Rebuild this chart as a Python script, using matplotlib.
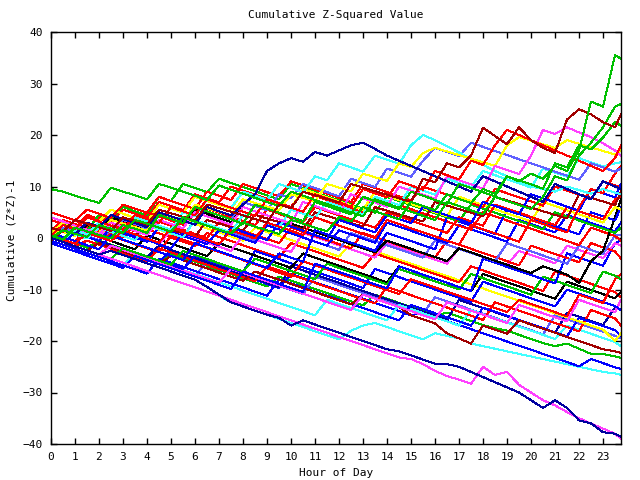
import matplotlib
matplotlib.use("Agg")
import matplotlib.pyplot as plt
import numpy as np

# half-hour samples plus the last reading at 23:45
hours = np.append(np.arange(0, 24, 0.5), 23.75)

# colours (gnuplot-ish)
R, G, B, M, C = '#ff0000', '#00c000', '#0000ff', '#ff40ff', '#40ffff'
DR, Y, K, DB, SB = '#a00000', '#ffff00', '#000000', '#0000a0', '#6060ff'

# cumulative (z*z)-1 per series
g_top = [0, 1.5, 0.8, 0.2, 2.5, 1.8, 1.0, 3.5, 2.8, 2.0, 1.2, 4.0, 3.2, 2.4, 1.6, 0.9,
         3.0, 2.2, 1.5, 0.8, 3.5, 2.8, 2.0, 1.3, 4.0, 3.2, 6.0, 5.2, 4.4, 3.6, 7.0, 6.2,
         5.4, 8.5, 7.6, 6.8, 9.5, 8.6, 12.0, 11.0, 12.5, 11.5, 14.0, 13.0, 17.0, 26.5, 25.5, 35.5, 34.8]
g_hi2 = [9.5, 9.0, 8.2, 7.5, 6.8, 9.8, 9.0, 8.3, 7.5, 10.5, 9.8, 9.0, 8.2, 7.4, 10.2, 9.4,
         8.6, 7.8, 7.0, 6.2, 9.0, 8.2, 7.4, 6.6, 5.8, 5.0, 4.2, 7.5, 6.7, 5.9, 5.1, 4.3,
         3.5, 7.0, 6.2, 5.4, 4.6, 8.0, 7.2, 6.4, 5.6, 8.0, 12.0, 11.2, 16.0, 18.5, 21.5, 25.5, 26.0]
g_hi3 = [0.5, -0.3, 2.0, 1.3, 0.6, -0.1, 2.5, 1.8, 1.0, 4.5, 3.7, 2.9, 6.0, 5.2, 4.4, 3.6,
         2.8, 6.5, 5.7, 4.9, 4.1, 3.3, 7.0, 6.2, 5.4, 4.6, 8.0, 7.2, 6.4, 5.6, 9.0, 8.2,
         7.4, 6.6, 10.5, 9.7, 8.9, 8.1, 12.0, 11.2, 10.4, 9.6, 14.5, 13.7, 18.0, 17.2, 19.5, 22.5, 21.8]
dr_hi = [2.0, 1.3, 3.5, 2.8, 2.1, 1.4, 4.0, 3.3, 2.6, 5.5, 4.8, 4.1, 3.4, 6.5, 5.8, 5.1,
         4.4, 3.7, 3.0, 6.5, 5.8, 9.0, 8.3, 7.6, 6.9, 10.5, 9.8, 9.1, 8.4, 7.7, 7.0, 11.5,
         10.8, 14.5, 13.7, 16.0, 21.4, 19.8, 18.2, 21.5, 19.0, 17.5, 16.5, 23.0, 25.0, 24.0, 22.5, 21.5, 24.0]
dr_mid = [-0.5, 1.5, 0.8, 0.1, 2.5, 1.8, 1.1, 0.4, 3.0, 2.3, 1.6, 0.9, 0.2, 3.5, 2.8, 2.1,
          1.4, 4.5, 3.8, 3.1, 2.4, 1.7, 5.0, 4.3, 3.6, 2.9, 2.2, 6.0, 5.3, 4.6, 3.9, 3.2,
          7.0, 6.3, 5.6, 4.9, 4.2, 8.0, 7.3, 6.6, 5.9, 5.2, 4.5, 3.8, 8.5, 7.8, 7.1, 6.4, 9.0]
dr_low = [0, -0.8, -1.6, -2.4, -1.0, -1.8, -2.6, -3.4, -4.2, -5.0, -3.5, -4.3, -5.1, -5.9, -6.7, -7.5,
          -8.3, -6.5, -7.3, -8.1, -8.9, -9.7, -10.5, -11.3, -12.1, -12.9, -11.0, -11.8, -12.6, -13.4, -15.0, -15.8,
          -16.6, -18.5, -19.5, -20.5, -17.0, -17.8, -18.6, -16.0, -16.8, -17.6, -18.4, -19.2, -20.0, -20.8, -21.6, -22.0, -22.3]
db_bot = [0, -0.8, -1.6, -2.4, -3.2, -2.5, -3.3, -4.1, -4.9, -5.7, -6.5, -7.3, -8.1, -9.5, -11.0, -12.5,
          -13.3, -14.1, -14.9, -15.5, -17.0, -16.0, -16.8, -17.6, -18.4, -19.2, -20.0, -20.8, -21.6, -22.0, -22.8, -23.6,
          -24.4, -24.5, -25.0, -26.0, -27.0, -28.0, -29.0, -30.0, -31.5, -33.0, -31.5, -33.0, -35.4, -36.0, -37.7, -38.0, -38.6]
m_bot = [0, -0.8, -1.6, -2.4, -3.2, -4.0, -4.8, -5.6, -6.4, -7.2, -8.0, -8.8, -9.6, -10.4, -11.2, -12.0,
         -12.8, -13.6, -14.4, -15.2, -16.0, -16.8, -17.6, -18.4, -19.2, -20.0, -20.8, -21.6, -22.4, -23.2, -23.5, -24.5,
         -25.8, -26.8, -27.5, -28.3, -25.0, -26.6, -26.0, -28.5, -30.0, -31.5, -32.5, -33.8, -35.0, -36.0, -37.0, -38.0, -39.0]
c_bot = [0, -0.8, -1.6, -2.4, -3.2, -4.0, -4.8, -5.6, -6.4, -7.2, -8.0, -8.8, -9.6, -10.4, -11.2, -12.5,
         -13.3, -14.1, -14.9, -15.7, -16.5, -17.3, -18.1, -18.9, -19.7, -18.0, -17.0, -16.5, -17.3, -18.1, -18.9, -19.7,
         -18.5, -19.0, -19.5, -20.5, -21.0, -21.5, -22.0, -22.5, -23.0, -23.5, -24.0, -24.5, -25.0, -25.5, -26.0, -26.3, -26.6]
g_low = [0.5, -0.3, -1.1, -1.9, -0.5, -1.3, -2.1, -2.9, -3.7, -4.5, -3.0, -3.8, -4.6, -5.4, -6.2, -7.0,
         -7.8, -8.6, -9.4, -7.5, -8.3, -9.1, -9.9, -10.7, -11.5, -12.3, -13.1, -11.0, -11.8, -12.6, -13.4, -14.2,
         -15.0, -14.5, -15.3, -16.1, -16.9, -17.5, -18.0, -18.8, -19.6, -20.4, -21.0, -20.5, -21.5, -22.5, -22.5, -23.0, -23.3]
b_low = [0, -0.8, 1.0, 0.2, -0.6, -1.4, -2.2, -3.0, -3.8, -4.6, -2.5, -3.3, -4.1, -4.9, -5.7, -6.5,
         -7.3, -8.1, -8.9, -9.7, -7.0, -7.8, -8.6, -9.4, -10.2, -11.0, -11.8, -12.6, -13.4, -14.2, -15.0, -14.5,
         -15.3, -16.1, -16.9, -17.7, -18.5, -19.3, -20.1, -20.9, -21.7, -22.5, -23.3, -24.1, -24.9, -23.5, -24.3, -25.1, -25.4]
y_hi = [1.0, 3.0, 2.3, 1.6, 0.9, 3.5, 2.8, 2.1, 1.4, 4.5, 3.8, 3.1, 6.5, 5.8, 5.1, 4.4,
        7.5, 6.8, 6.1, 5.4, 8.5, 7.8, 7.1, 10.5, 9.8, 9.1, 12.5, 11.8, 11.1, 14.5, 13.8, 16.5,
        17.5, 16.8, 16.1, 15.4, 14.7, 14.0, 18.0, 19.6, 18.9, 18.2, 17.5, 19.0, 18.3, 17.6, 16.9, 16.2, 17.0]
c_hi = [0.5, -0.3, 1.5, 0.7, 3.0, 2.2, 1.4, 4.0, 3.2, 2.4, 1.6, 5.0, 4.2, 7.5, 6.7, 5.9,
        9.0, 8.2, 7.4, 10.5, 9.7, 8.9, 12.0, 11.2, 14.5, 13.7, 12.9, 16.0, 15.2, 14.4, 18.0, 20.0,
        19.0, 17.8, 16.6, 15.4, 14.2, 13.0, 12.0, 11.0, 10.0, 9.5, 9.0, 10.0, 9.3, 8.6, 9.5, 8.8, 8.5]
db_hi = [0, 1.5, 0.7, 3.0, 2.2, 4.5, 3.7, 2.9, 2.1, 5.0, 4.2, 3.4, 2.6, 6.0, 5.2, 4.4,
         6.5, 8.5, 13.0, 14.5, 15.5, 14.8, 16.7, 16.0, 17.0, 18.0, 18.5, 17.3, 16.0, 15.0, 14.0, 13.0,
         12.0, 11.0, 10.0, 9.0, 12.0, 11.0, 10.0, 9.0, 8.0, 7.0, 10.5, 9.5, 8.5, 7.5, 11.0, 10.0, 9.5]
r_1 = [0.5, 2.5, 1.7, 4.0, 3.2, 2.4, 1.6, 4.5, 3.7, 2.9, 6.0, 5.2, 4.4, 7.5, 6.7, 5.9,
       5.1, 4.3, 7.5, 6.7, 5.9, 5.1, 8.5, 7.7, 6.9, 6.1, 9.5, 8.7, 7.9, 11.0, 10.2, 9.4,
       13.0, 12.2, 11.4, 15.0, 14.2, 18.0, 21.0, 20.0, 19.0, 18.0, 17.0, 16.0, 15.0, 14.0, 13.0, 15.5, 18.0]
r_2 = [2.0, 1.2, 3.5, 2.7, 1.9, 1.1, 3.0, 2.2, 5.0, 4.2, 3.4, 2.6, 6.5, 5.7, 4.9, 4.1,
       3.3, 2.5, 5.5, 4.7, 3.9, 3.1, 6.0, 5.2, 4.4, 3.6, 2.8, 2.0, 5.0, 4.2, 3.4, 2.6,
       1.8, 1.0, 4.0, 3.2, 2.4, 6.5, 5.7, 4.9, 4.1, 3.3, 2.5, 6.0, 5.2, 4.4, 3.6, 7.5, 8.0]
r_3 = [3.5, 2.7, 1.9, 4.5, 3.7, 2.9, 2.1, 1.3, 4.0, 3.2, 2.4, 1.6, 0.8, 0.0, 3.0, 2.2,
       1.4, 0.6, -0.2, -1.0, 2.0, 1.2, 0.4, -0.4, -1.2, -2.0, 1.0, 0.2, -0.6, -1.4, -2.2, -3.0,
       -3.8, -0.5, -1.3, -2.1, -2.9, -3.7, -4.5, -5.3, -1.5, -2.3, -3.1, -3.9, -4.7, -1.0, -1.8, -2.6, -4.0]
r_4 = [5.0, 4.2, 3.4, 2.6, 1.8, 1.0, 0.2, 2.5, 1.7, 0.9, 0.1, -0.7, -1.5, 1.0, 0.2, -0.6,
       -1.4, -2.2, -3.0, -3.8, -1.0, -1.8, -2.6, -3.4, -4.2, -5.0, -5.8, -3.0, -3.8, -4.6, -5.4, -6.2,
       -7.0, -7.8, -8.6, -5.5, -6.3, -7.1, -7.9, -8.7, -9.5, -10.3, -6.5, -7.3, -8.1, -8.9, -9.7, -10.5, -11.5]
r_5 = [0, -0.8, -1.6, -0.5, -1.3, -2.1, -2.9, -3.7, -4.5, -2.0, -2.8, -3.6, -4.4, -5.2, -6.0, -6.8,
       -7.6, -8.4, -5.5, -6.3, -7.1, -7.9, -8.7, -9.5, -10.3, -11.1, -11.9, -12.7, -9.5, -10.3, -11.1, -11.9,
       -12.7, -13.5, -14.3, -15.1, -15.9, -12.5, -13.3, -14.1, -14.9, -15.7, -16.5, -17.3, -18.1, -14.0, -14.8, -15.6, -17.0]
r_6 = [1.0, 0.2, -0.6, 2.0, 1.2, 0.4, -0.4, -1.2, -2.0, -2.8, 0.5, -0.3, -1.1, -1.9, -2.7, -3.5,
       -4.3, -5.1, -5.9, -6.7, -7.5, -4.5, -5.3, -6.1, -6.9, -7.7, -8.5, -9.3, -10.1, -10.9, -8.0, -8.8,
       -9.6, -10.4, -11.2, -12.0, -12.8, -13.6, -14.4, -12.0, -12.8, -13.6, -14.4, -15.2, -11.0, -11.8, -12.6, -8.0, -7.0]
r_7 = [1.5, 3.5, 2.7, 1.9, 4.0, 3.2, 5.5, 4.7, 3.9, 7.0, 6.2, 5.4, 8.5, 7.7, 6.9, 10.0,
       9.2, 8.4, 7.6, 6.8, 6.0, 9.0, 8.2, 7.4, 6.6, 5.8, 5.0, 8.0, 7.2, 6.4, 5.6, 4.8,
       4.0, 3.2, 2.4, 1.6, 5.0, 4.2, 3.4, 2.6, 1.8, 1.0, 0.2, -0.6, -1.4, 2.0, 1.2, 0.4, -0.5]
r_8 = [0.5, -0.3, -1.1, 1.0, 0.2, -0.6, 1.5, 0.7, -0.1, -0.9, 2.0, 1.2, 0.4, -0.4, -1.2, 1.5,
       0.7, -0.1, 3.0, 2.2, 1.4, 0.6, 4.0, 3.2, 2.4, 1.6, 0.8, 0.0, 3.5, 2.7, 1.9, 1.1,
       0.3, -0.5, -1.3, 2.5, 1.7, 0.9, 0.1, -0.7, 3.5, 2.7, 1.9, 1.1, 6.0, 9.5, 8.7, 12.5, 14.0]
r_9 = [5.0, 4.2, 3.4, 5.5, 4.7, 3.9, 6.5, 5.7, 4.9, 8.0, 7.2, 6.4, 5.6, 9.0, 8.2, 7.4,
       10.5, 9.7, 8.9, 8.1, 11.0, 10.2, 9.4, 8.6, 7.8, 7.0, 10.5, 9.7, 8.9, 8.1, 7.3, 10.0,
       9.2, 8.4, 7.6, 6.8, 6.0, 9.5, 8.7, 7.9, 7.1, 6.3, 10.0, 9.2, 8.4, 7.6, 11.0, 10.2, 10.0]
b_1 = [0, -0.8, -1.6, -2.4, -3.2, -4.0, -2.0, -2.8, -3.6, -4.4, -5.2, -6.0, -3.5, -4.3, -5.1, -5.9,
       -6.7, -2.5, -3.3, -4.1, -4.9, -5.7, -6.5, -7.3, -8.1, -8.9, -9.7, -6.0, -6.8, -7.6, -8.4, -9.2,
       -10.0, -10.8, -11.6, -12.4, -8.5, -9.3, -10.1, -10.9, -11.7, -12.5, -13.3, -10.0, -10.8, -11.6, -12.4, -13.2, -14.0]
b_2 = [0.5, 1.5, 0.7, -0.1, 2.5, 1.7, 0.9, 0.1, -0.7, 2.0, 1.2, 0.4, -0.4, -1.2, 1.5, 0.7,
       -0.1, -0.9, 2.5, 1.7, 0.9, 0.1, -0.7, -1.5, 1.5, 0.7, -0.1, -0.9, 3.0, 2.2, 1.4, 0.6,
       -0.2, -1.0, 2.5, 1.7, 0.9, 0.1, -0.7, 3.5, 2.7, 1.9, 1.1, 4.5, 3.7, 2.9, 2.1, 1.3, 3.0]
b_3 = [0, -0.8, 1.0, 0.2, -0.6, 2.0, 1.2, 0.4, -0.4, -1.2, -2.0, 1.0, 0.2, -0.6, -1.4, 2.0,
       1.2, 0.4, -0.4, 3.0, 2.2, 1.4, 0.6, -0.2, 3.5, 2.7, 1.9, 1.1, 4.5, 3.7, 2.9, 6.0,
       5.2, 4.4, 3.6, 2.8, 7.0, 6.2, 5.4, 4.6, 8.5, 7.7, 6.9, 6.1, 5.3, 9.5, 8.7, 7.9, 10.5]
b_4 = [-0.5, -1.3, -2.1, -2.9, -3.7, -4.5, -5.3, -6.1, -6.9, -4.0, -4.8, -5.6, -6.4, -7.2, -8.0, -8.8,
       -9.6, -10.4, -11.2, -8.0, -8.8, -9.6, -10.4, -11.2, -12.0, -12.8, -13.6, -14.4, -15.2, -16.0, -13.0, -13.8,
       -14.6, -15.4, -16.2, -17.0, -13.5, -14.3, -15.1, -15.9, -16.7, -17.5, -18.3, -19.1, -15.5, -16.3, -17.1, -17.9, -19.0]
b_5 = [1.0, 0.2, -0.6, -1.4, -2.2, 0.5, -0.3, -1.1, -1.9, -2.7, -3.5, -4.3, -1.0, -1.8, -2.6, -3.4,
       -4.2, -5.0, -5.8, -3.0, -3.8, -4.6, 1.5, 0.7, -0.1, -0.9, -1.7, -2.5, 1.0, 0.2, -0.6, -1.4,
       -2.2, 4.0, 3.2, 2.4, 1.6, 0.8, 5.5, 4.7, 3.9, 3.1, 2.3, 1.5, 0.7, 5.0, 4.2, 3.4, 6.0]
b_6 = [-1.0, -1.8, -2.6, -3.4, -4.2, -5.0, -5.8, -3.5, -4.3, -5.1, -5.9, -6.7, -7.5, -8.3, -9.1, -9.9,
       -6.5, -7.3, -8.1, -8.9, -9.7, -10.5, -5.0, -5.8, -6.6, -7.4, -8.2, -9.0, -9.8, -5.5, -6.3, -7.1,
       -7.9, -8.7, -9.5, -10.3, -4.0, -4.8, -5.6, -6.4, -7.2, -8.0, -8.8, -3.0, -3.8, -4.6, -5.4, -1.0, -0.5]
sb_1 = [0, 2.0, 1.2, 0.4, -0.4, 1.5, 0.7, 3.5, 2.7, 1.9, 1.1, 0.3, 3.5, 2.7, 1.9, 1.1,
        0.3, -0.5, 2.5, 1.7, 0.9, 0.1, -0.7, -1.5, -2.3, 1.0, 0.2, -0.6, -1.4, -2.2, -3.0, -3.8,
        -0.5, -1.3, -2.1, -2.9, -3.7, -4.5, -1.0, -1.8, -2.6, -3.4, -4.2, -5.0, -1.5, -2.3, -3.1, 0.5, 0.5]
sb_hi = [0.5, -0.3, 1.5, 0.7, 2.5, 1.7, 3.5, 2.7, 1.9, 4.5, 3.7, 2.9, 6.0, 5.2, 4.4, 3.6,
         7.0, 6.2, 5.4, 8.5, 7.7, 10.5, 9.7, 8.9, 8.1, 11.5, 10.7, 9.9, 13.5, 12.7, 11.9, 15.0,
         17.5, 16.7, 15.9, 18.5, 17.7, 16.9, 16.1, 15.3, 14.5, 13.7, 12.9, 12.1, 11.3, 14.5, 13.7, 12.9, 13.5]
sb_low = [0, -0.8, -1.6, -2.4, -1.0, -1.8, -2.6, -3.4, -4.2, -5.0, -5.8, -6.6, -7.4, -4.5, -5.3, -6.1,
          -6.9, -7.7, -8.5, -9.3, -10.1, -10.9, -7.5, -8.3, -9.1, -9.9, -10.7, -11.5, -12.3, -13.1, -13.9, -14.7,
          -11.5, -12.3, -13.1, -13.9, -14.7, -15.5, -16.3, -17.1, -17.9, -18.7, -15.0, -15.8, -16.6, -17.4, -18.2, -19.0, -19.5]
m_1 = [3.5, 2.7, 1.9, 1.1, 0.3, 2.0, 1.2, 0.4, -0.4, -1.2, 1.5, 0.7, -0.1, -0.9, -1.7, -2.5,
       0.5, -0.3, -1.1, -1.9, -2.7, 1.0, 0.2, -0.6, -1.4, -2.2, -3.0, -3.8, -1.0, -1.8, -2.6, -3.4,
       -4.2, -5.0, -2.0, -2.8, -3.6, -4.4, -5.2, -2.5, -3.3, -4.1, -4.9, -1.5, -2.3, -3.1, -3.9, -1.0, -1.5]
m_hi = [4.0, 3.2, 2.4, 1.6, 0.8, 3.0, 2.2, 1.4, 0.6, 3.5, 2.7, 1.9, 5.0, 4.2, 3.4, 2.6,
        6.0, 5.2, 4.4, 3.6, 2.8, 7.0, 6.2, 5.4, 4.6, 8.5, 7.7, 6.9, 6.1, 10.0, 9.2, 8.4,
        7.6, 12.0, 11.2, 10.4, 9.6, 14.0, 13.2, 12.4, 16.0, 21.0, 20.2, 21.5, 20.5, 19.6, 18.4, 17.0, 16.0]
m_2 = [0, -0.8, -1.6, -2.4, -3.2, -1.5, -2.3, -3.1, -3.9, -4.7, -5.5, -6.3, -7.1, -7.9, -8.7, -6.0,
       -6.8, -7.6, -8.4, -9.2, -10.0, -10.8, -11.6, -12.4, -13.2, -14.0, -11.0, -11.8, -12.6, -13.4, -14.2, -15.0,
       -15.8, -12.5, -13.3, -14.1, -14.9, -15.7, -16.5, -13.0, -13.8, -14.6, -15.4, -16.2, -12.0, -12.8, -13.6, -14.4, -12.0]
c_1 = [-0.5, -1.3, -2.1, -2.9, -3.7, -4.5, -5.3, -3.0, -3.8, -4.6, -5.4, -6.2, -7.0, -7.8, -8.6, -9.4,
       -10.2, -11.0, -11.8, -12.6, -13.4, -14.2, -15.0, -12.0, -12.8, -13.6, -14.4, -15.2, -16.0, -13.0, -13.8, -14.6,
       -15.4, -16.2, -17.0, -14.0, -14.8, -15.6, -16.4, -17.2, -18.0, -18.8, -19.6, -17.0, -17.8, -18.6, -19.4, -20.2, -21.0]
c_2 = [0, 1.5, 0.7, -0.1, 2.0, 1.2, 0.4, -0.4, 2.5, 1.7, 0.9, 0.1, 3.5, 2.7, 1.9, 1.1,
       4.5, 3.7, 2.9, 2.1, 5.5, 4.7, 3.9, 7.0, 6.2, 5.4, 4.6, 8.0, 7.2, 6.4, 10.0, 9.2,
       8.4, 11.5, 10.7, 9.9, 13.0, 12.2, 11.4, 10.6, 9.8, 13.5, 12.7, 11.9, 15.5, 14.7, 13.9, 14.5, 14.7]
y_1 = [2.0, 1.2, 0.4, 2.5, 1.7, 0.9, 4.0, 3.2, 2.4, 1.6, 0.8, 3.5, 2.7, 1.9, 1.1, 0.3,
       -0.5, 2.0, 1.2, 0.4, -0.4, -1.2, -2.0, -2.8, -3.6, -1.0, -1.8, -2.6, -3.4, -4.2, -5.0, -5.8,
       -6.6, -7.4, -8.2, -9.0, -9.8, -10.6, -11.4, -12.2, -13.0, -13.8, -14.6, -15.4, -16.2, -17.0, -17.8, -20.0, -18.5]
y_2 = [0, 2.5, 1.7, 4.0, 3.2, 5.5, 4.7, 3.9, 3.1, 6.5, 5.7, 4.9, 8.0, 7.2, 6.4, 5.6,
       9.0, 8.2, 7.4, 6.6, 5.8, 9.5, 8.7, 7.9, 7.1, 6.3, 5.5, 9.0, 8.2, 7.4, 6.6, 5.8,
       5.0, 4.2, 8.0, 7.2, 6.4, 5.6, 4.8, 4.0, 3.2, 7.0, 6.2, 5.4, 4.6, 3.8, 3.0, 6.0, 5.5]
k_1 = [0, 1.5, 0.7, 2.5, 1.7, 4.0, 3.2, 2.4, 1.6, 4.5, 3.7, 2.9, 5.5, 4.7, 3.9, 3.1,
       6.0, 5.2, 4.4, 3.6, 2.8, 2.0, 1.2, 0.4, -0.4, -1.2, -2.0, -2.8, -0.5, -1.3, -2.1, -2.9,
       -3.7, -4.5, -2.0, -2.8, -3.6, -4.4, -5.2, -6.0, -6.8, -5.5, -6.3, -7.1, -8.7, -4.5, -2.5, 4.0, 7.5]
k_2 = [0.5, -0.3, -1.1, 1.0, 0.2, -0.6, -1.4, -2.2, 0.5, -0.3, -1.1, -1.9, -2.7, -3.5, -1.0, -1.8,
       -2.6, -3.4, -4.2, -5.0, -5.8, -3.0, -3.8, -4.6, -5.4, -6.2, -7.0, -7.8, -8.6, -5.5, -6.3, -7.1,
       -7.9, -8.7, -9.5, -10.3, -7.0, -7.8, -8.6, -9.4, -10.2, -11.0, -11.8, -8.5, -9.3, -10.1, -10.9, -11.7, -10.5]
g_1 = [1.0, 3.0, 2.2, 1.4, 4.5, 3.7, 6.0, 5.2, 4.4, 8.0, 7.2, 10.5, 9.7, 8.9, 11.5, 10.7,
       9.9, 9.1, 8.3, 7.5, 10.5, 9.7, 8.9, 8.1, 7.3, 6.5, 5.7, 4.9, 8.0, 7.2, 6.4, 5.6,
       4.8, 4.0, 3.2, 6.5, 5.7, 4.9, 4.1, 3.3, 2.5, 1.7, 5.0, 4.2, 3.4, 2.6, 1.8, 1.0, 2.0]
g_2 = [0, -0.8, -1.6, -2.4, -3.2, -4.0, -2.0, -2.8, -3.6, -4.4, -5.2, -2.5, -3.3, -4.1, -4.9, -5.7,
       -6.5, -4.0, -4.8, -5.6, -6.4, -7.2, -8.0, -5.0, -5.8, -6.6, -7.4, -8.2, -9.0, -6.0, -6.8, -7.6,
       -8.4, -9.2, -10.0, -7.0, -7.8, -8.6, -9.4, -10.2, -11.0, -7.5, -8.3, -9.1, -9.9, -10.7, -6.5, -7.3, -8.0]
db_1 = [0, -0.8, 1.0, 0.2, -0.6, -1.4, -2.2, -3.0, -3.8, -1.5, -2.3, -3.1, -3.9, -4.7, -5.5, -6.3,
        -7.1, -7.9, -8.7, -9.5, -5.5, -6.3, -7.1, -7.9, -8.7, -9.5, -10.3, -11.1, -11.9, -12.7, -13.5, -14.3,
        -15.1, -15.9, -12.0, -12.8, -13.6, -14.4, -15.2, -16.0, -16.8, -17.6, -18.4, -14.5, -15.3, -16.1, -16.9, -13.5, -14.0]

series = [
    (g_low, G), (c_bot, C), (b_low, B), (sb_low, SB), (db_1, DB), (c_1, C),
    (r_5, R), (b_4, B), (dr_low, DR), (y_1, Y), (m_2, M), (r_4, R), (b_1, B),
    (k_2, K), (r_6, R), (g_2, G), (b_6, B), (m_1, M), (r_3, R), (sb_1, SB),
    (b_2, B), (r_7, R), (k_1, K), (b_5, B), (g_1, G), (y_2, Y), (r_2, R),
    (dr_mid, DR), (r_9, R), (b_3, B), (c_2, C), (r_8, R), (sb_hi, SB), (c_hi, C),
    (y_hi, Y), (m_hi, M), (r_1, R), (db_hi, DB), (g_hi3, G), (g_hi2, G),
    (dr_hi, DR), (g_top, G), (m_bot, M), (db_bot, DB),
]

plt.rcParams['font.family'] = 'DejaVu Sans Mono'
plt.rcParams['font.size'] = 8

fig = plt.figure(figsize=(6.4, 4.8), dpi=100)
ax = fig.add_axes([51 / 640, 1 - 444 / 480, 570 / 640, 412 / 480])

for vals, col in series:
    ax.plot(hours, vals, color=col, lw=0.72, antialiased=False)

ax.set_xlim(0, 23.75)
ax.set_ylim(-40, 40)
ax.set_xticks(range(0, 24))
ax.set_yticks(range(-40, 41, 10))
ax.tick_params(direction='in', length=4, width=1, top=True, right=True,
               labelsize=8, color='black')
ax.tick_params(axis='x', pad=6)
ax.tick_params(axis='y', pad=6)
for sp in ax.spines.values():
    sp.set_linewidth(1)
    sp.set_color('black')

fig.text(336 / 640, 1 - 15 / 480, 'Cumulative Z-Squared Value', ha='center', va='center', fontsize=8)
fig.text(336 / 640, 1 - 473 / 480, 'Hour of Day', ha='center', va='center', fontsize=8)
fig.text(12 / 640, 0.5, 'Cumulative (Z*Z)-1', rotation=90, ha='center', va='center', fontsize=8)

fig.savefig('out.png', dpi=100)
